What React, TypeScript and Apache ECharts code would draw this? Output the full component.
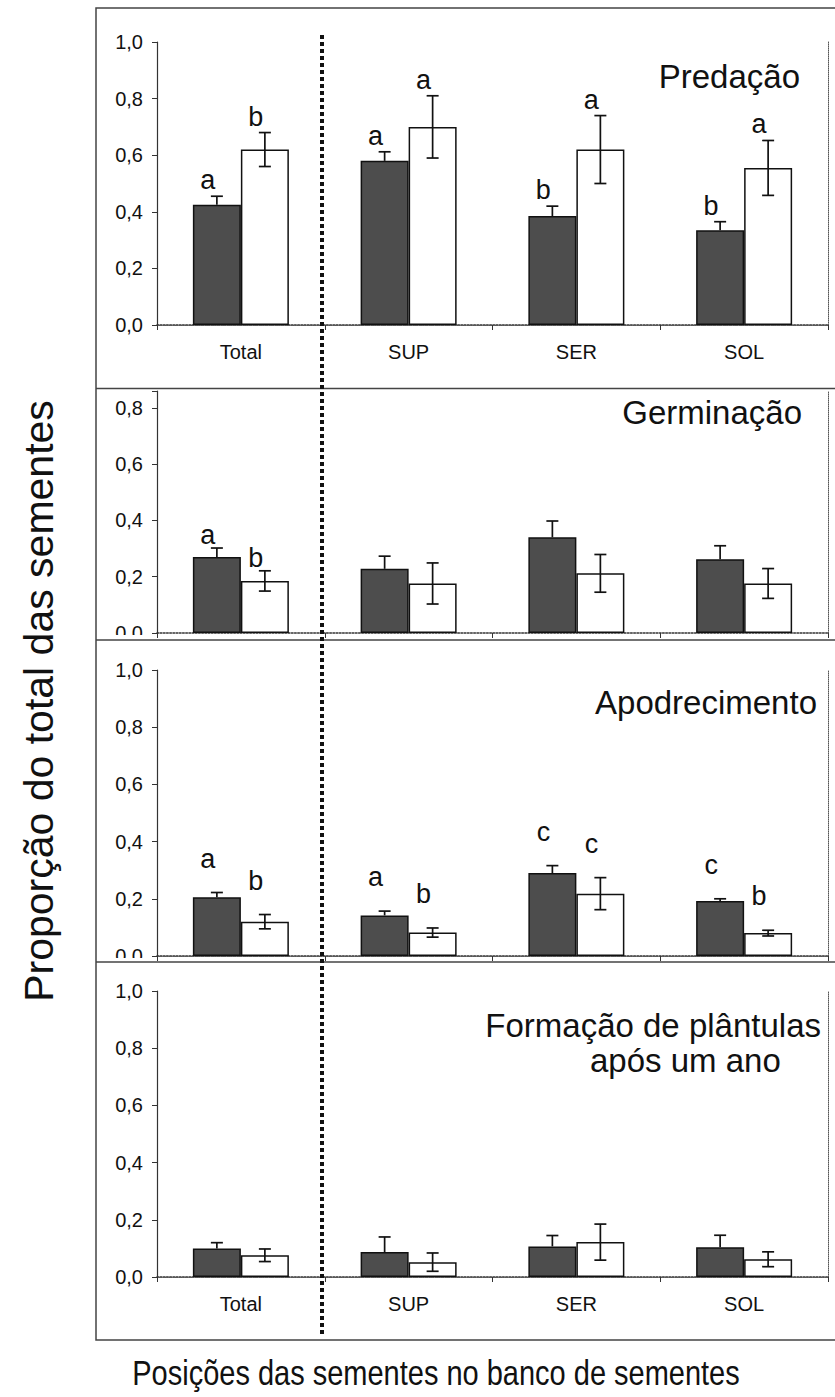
import React, { useEffect, useRef } from "react";
import * as echarts from "echarts";

// Seed positions in the seed bank
const categories = ["Total", "SUP", "SER", "SOL"];

// Predação
const predDark = [0.425, 0.58, 0.385, 0.335];
const predDarkErr = [0.03, 0.032, 0.035, 0.03];
const predLight = [0.62, 0.7, 0.62, 0.555];
const predLightErr = [0.06, 0.11, 0.12, 0.097];
const predDarkLetters = ["a", "a", "b", "b"];
const predLightLetters = ["b", "a", "a", "a"];

// Germinação
const germDark = [0.27, 0.228, 0.34, 0.262];
const germDarkErr = [0.032, 0.045, 0.058, 0.048];
const germLight = [0.185, 0.176, 0.212, 0.176];
const germLightErr = [0.036, 0.073, 0.067, 0.053];
const germDarkLetters = ["a", "", "", ""];
const germLightLetters = ["b", "", "", ""];

// Apodrecimento
const apodDark = [0.205, 0.142, 0.29, 0.192];
const apodDarkErr = [0.017, 0.015, 0.026, 0.008];
const apodLight = [0.12, 0.082, 0.218, 0.08];
const apodLightErr = [0.025, 0.016, 0.056, 0.01];
const apodDarkLetters = ["a", "a", "c", "c"];
const apodLightLetters = ["b", "b", "c", "b"];

// Formação de plântulas após um ano
const plantDark = [0.1, 0.087, 0.107, 0.104];
const plantDarkErr = [0.02, 0.053, 0.038, 0.042];
const plantLight = [0.076, 0.052, 0.122, 0.062];
const plantLightErr = [0.022, 0.032, 0.063, 0.026];
const plantDarkLetters = ["", "", "", ""];
const plantLightLetters = ["", "", "", ""];

const yAxisTitle = "Proporção do total das sementes";
const xAxisTitle = "Posições das sementes no banco de sementes";

const FONT = '"Liberation Sans", Arial, Helvetica, sans-serif';
const INK = "#111";
const GRID_LEFT = 157;
const GRID_RIGHT = 828;
const BAR_W = 48;

type Panel = {
  titles: { text: string; x: number; y: number; align: string }[];
  dark: number[];
  darkErr: number[];
  light: number[];
  lightErr: number[];
  darkLetters: string[];
  lightLetters: string[];
  top: number;
  height: number;
  max: number;
  showCats: boolean;
  showTopBorder: boolean;
  lift: number;
};

const panels: Panel[] = [
  {
    titles: [{ text: "Predação", x: 800, y: 76, align: "right" }],
    dark: predDark, darkErr: predDarkErr, light: predLight, lightErr: predLightErr,
    darkLetters: predDarkLetters, lightLetters: predLightLetters,
    top: 42, height: 283, max: 1, showCats: true, showTopBorder: true, lift: 16,
  },
  {
    titles: [{ text: "Germinação", x: 802, y: 412, align: "right" }],
    dark: germDark, darkErr: germDarkErr, light: germLight, lightErr: germLightErr,
    darkLetters: germDarkLetters, lightLetters: germLightLetters,
    top: 391, height: 242, max: 0.86, showCats: false, showTopBorder: false, lift: 13,
  },
  {
    titles: [{ text: "Apodrecimento", x: 817, y: 702, align: "right" }],
    dark: apodDark, darkErr: apodDarkErr, light: apodLight, lightErr: apodLightErr,
    darkLetters: apodDarkLetters, lightLetters: apodLightLetters,
    top: 670, height: 286, max: 1, showCats: false, showTopBorder: true, lift: 34,
  },
  {
    titles: [
      { text: "Formação de plântulas", x: 821, y: 1025, align: "right" },
      { text: "após um ano", x: 590, y: 1060, align: "left" },
    ],
    dark: plantDark, darkErr: plantDarkErr, light: plantLight, lightErr: plantLightErr,
    darkLetters: plantDarkLetters, lightLetters: plantLightLetters,
    top: 991, height: 286, max: 1, showCats: true, showTopBorder: true, lift: 16,
  },
];

const tickLabel = (v: number) => {
  const k = v / 0.2;
  if (Math.abs(k - Math.round(k)) > 1e-6) return "";
  return v.toFixed(1).replace(".", ",");
};

function errorSeries(
  gi: number,
  values: number[],
  errs: number[],
  letters: string[],
  side: number,
  withLower: boolean,
  lift: number
) {
  return {
    type: "custom",
    xAxisIndex: 2 * gi,
    yAxisIndex: 2 * gi,
    z: 5,
    silent: true,
    data: values.map((v, i) => [i, v, errs[i]]),
    renderItem: (params: any, api: any) => {
      const i = api.value(0);
      const v = api.value(1);
      const e = api.value(2);
      const base = api.coord([i, v]);
      const x = base[0] + (side * BAR_W) / 2;
      const yTop = api.coord([i, v + e])[1];
      const yBot = withLower ? api.coord([i, v - e])[1] : base[1];
      const stroke = { stroke: INK, lineWidth: 1.7 };
      const children: any[] = [
        { type: "line", shape: { x1: x, y1: yTop, x2: x, y2: yBot }, style: stroke },
        { type: "line", shape: { x1: x - 6, y1: yTop, x2: x + 6, y2: yTop }, style: stroke },
      ];
      if (withLower) {
        children.push({ type: "line", shape: { x1: x - 6, y1: yBot, x2: x + 6, y2: yBot }, style: stroke });
      }
      const letter = letters[params.dataIndex];
      if (letter) {
        children.push({
          type: "text",
          x: x - 9,
          y: yTop - lift,
          style: { text: letter, fill: INK, font: `27px ${FONT}`, align: "center", verticalAlign: "middle" },
        });
      }
      return { type: "group", children };
    },
  };
}

function buildOption() {
  const grid: any[] = [];
  const xAxis: any[] = [];
  const yAxis: any[] = [];
  const series: any[] = [];

  panels.forEach((p, gi) => {
    grid.push({ left: GRID_LEFT, width: GRID_RIGHT - GRID_LEFT, top: p.top, height: p.height, containLabel: false });
    xAxis.push({
      type: "category",
      gridIndex: gi,
      data: categories,
      position: "bottom",
      axisLine: { lineStyle: { color: "#333", width: 1.6, type: "dotted" } },
      axisTick: { show: true, length: 5, lineStyle: { color: "#333", width: 1 } },
      axisLabel: { show: p.showCats, color: INK, fontSize: 20, fontFamily: FONT, margin: 17 },
      splitLine: { show: false },
    });
    xAxis.push({
      type: "category",
      gridIndex: gi,
      data: categories,
      position: "top",
      axisLine: { show: p.showTopBorder, lineStyle: { color: "#555", width: 1, type: "dotted" } },
      axisTick: { show: false },
      axisLabel: { show: false },
      splitLine: { show: false },
    });
    yAxis.push({
      type: "value",
      gridIndex: gi,
      min: 0,
      max: p.max,
      interval: 0.2,
      position: "left",
      axisLine: { show: true, lineStyle: { color: "#333", width: 1.2 } },
      axisTick: { show: true, length: 5, lineStyle: { color: "#333" } },
      axisLabel: { color: INK, fontSize: 20, fontFamily: FONT, margin: 14, formatter: tickLabel },
      splitLine: { show: false },
    });
    yAxis.push({
      type: "value",
      gridIndex: gi,
      min: 0,
      max: p.max,
      interval: 0.2,
      position: "right",
      axisLine: { show: true, lineStyle: { color: "#555", width: 1, type: "dotted" } },
      axisTick: { show: false },
      axisLabel: { show: false },
      splitLine: { show: false },
    });

    series.push({
      type: "bar",
      xAxisIndex: 2 * gi,
      yAxisIndex: 2 * gi,
      data: p.dark,
      barWidth: BAR_W,
      barGap: "0%",
      itemStyle: { color: "#4d4d4d", borderColor: INK, borderWidth: 1.5 },
      silent: true,
    });
    series.push({
      type: "bar",
      xAxisIndex: 2 * gi,
      yAxisIndex: 2 * gi,
      data: p.light,
      barWidth: BAR_W,
      barGap: "0%",
      itemStyle: { color: "#ffffff", borderColor: INK, borderWidth: 1.5 },
      silent: true,
    });
    series.push(errorSeries(gi, p.dark, p.darkErr, p.darkLetters, -1, false, p.lift));
    series.push(errorSeries(gi, p.light, p.lightErr, p.lightLetters, 1, true, p.lift));
  });

  const graphic: any[] = [];
  // Clip the half-hidden zero labels of the middle panels
  graphic.push({ type: "rect", z: 100, shape: { x: 100, y: 635, width: 50, height: 14 }, style: { fill: "#fff" } });
  graphic.push({ type: "rect", z: 100, shape: { x: 100, y: 958, width: 50, height: 14 }, style: { fill: "#fff" } });
  // Outer frame and panel separators
  graphic.push({
    type: "rect",
    z: 101,
    shape: { x: 96, y: 8, width: 760, height: 1332 },
    style: { fill: "none", stroke: "#444", lineWidth: 1.5 },
  });
  [388.5, 640, 962].forEach((y) => {
    graphic.push({
      type: "line",
      z: 101,
      shape: { x1: 96, y1: y, x2: 840, y2: y },
      style: { stroke: "#444", lineWidth: 1.5 },
    });
  });
  // Thick dotted divider between Total and the seed-bank positions
  graphic.push({
    type: "line",
    z: 102,
    shape: { x1: 322, y1: 35, x2: 322, y2: 1335 },
    style: { stroke: INK, lineWidth: 4, lineDash: [4, 3] },
  });
  panels.forEach((p) => {
    p.titles.forEach((t) => {
      graphic.push({
        type: "text",
        z: 103,
        x: t.x,
        y: t.y,
        style: { text: t.text, fill: INK, font: `33px ${FONT}`, align: t.align, verticalAlign: "middle" },
      });
    });
  });
  graphic.push({
    type: "text",
    z: 103,
    x: 39,
    y: 701,
    rotation: Math.PI / 2,
    style: { text: yAxisTitle, fill: INK, font: `41px ${FONT}`, align: "center", verticalAlign: "middle" },
  });
  graphic.push({
    type: "text",
    z: 103,
    x: 436,
    y: 1373,
    scaleY: 1.2,
    style: { text: xAxisTitle, fill: INK, font: `29px ${FONT}`, align: "center", verticalAlign: "middle" },
  });

  return {
    animation: false,
    backgroundColor: "#ffffff",
    grid,
    xAxis,
    yAxis,
    series,
    graphic,
  };
}

export default function App() {
  const ref = useRef<HTMLDivElement>(null);
  useEffect(() => {
    if (!ref.current) return;
    const chart = echarts.init(ref.current, undefined, { renderer: "svg" });
    chart.setOption(buildOption() as any);
    return () => chart.dispose();
  }, []);
  return (
    <div
      ref={ref}
      style={{ position: "absolute", left: 0, top: 0, width: 835, height: 1397, background: "#fff" }}
    />
  );
}
